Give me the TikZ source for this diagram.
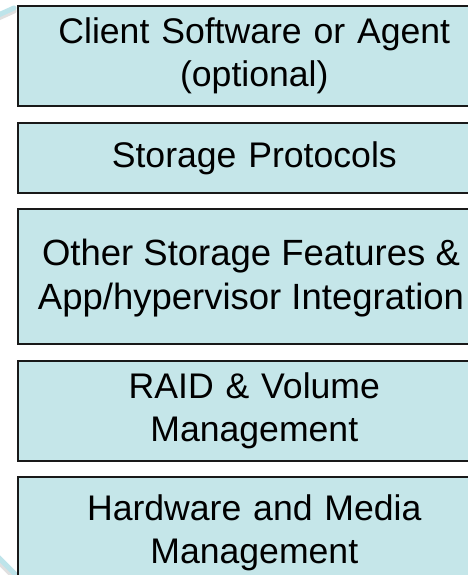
\documentclass[tikz,border=0pt]{standalone}
\usepackage{fontspec}
\setmainfont{Liberation Sans}
\definecolor{layerfill}{RGB}{197,230,233}
\definecolor{ringcyan}{RGB}{190,228,234}
\begin{document}
\begin{tikzpicture}[x=1pt,y=1pt,
  layer/.style={draw=black!90, line width=1.6pt, fill=layerfill,
    anchor=north west, minimum width=473pt, inner sep=0pt,
    text width=460pt, align=center,
    font=\fontsize{35.6pt}{42.7pt}\selectfont},
  widetext/.style={inner sep=0pt, align=center,
    font=\fontsize{36.5pt}{43.5pt}\selectfont},
  ring/.style={line width=5pt, ringcyan, line cap=round},
  ringshade/.style={line width=5pt, black!12, line cap=round}]
\useasboundingbox (0,0) rectangle (468,-575);
\clip (0,0) rectangle (468,-575);
\fill[white] (0,0) rectangle (468,-575);

% faint arcs of the ring behind the stack
\draw[ringshade] (-6,-20) -- (14,-11);
\draw[ring] (-6,-17) -- (14,-8);
\draw[ringshade] (-4,-559) -- (15,-578);
\draw[ring] (-2,-557) -- (17,-576);

% layers of the stack, top to bottom
\node[layer, minimum height=100pt] (client) at (17,-5)
  {Client Software or Agent\\(optional)};
\node[layer, minimum height=70pt] (proto) at (17,-122)
  {Storage Protocols};
\node[layer, minimum height=135pt] (features) at (17,-208) {};
\node[widetext] (featurestext) at (251,-278)
  {Other Storage Features \&\\App/hypervisor Integration};
\node[layer, minimum height=100pt] (raid) at (17,-360)
  {RAID \& Volume\\Management};
\node[layer, minimum height=112pt] (hw) at (17,-476)
  {Hardware and Media\\Management};
\end{tikzpicture}
\end{document}
